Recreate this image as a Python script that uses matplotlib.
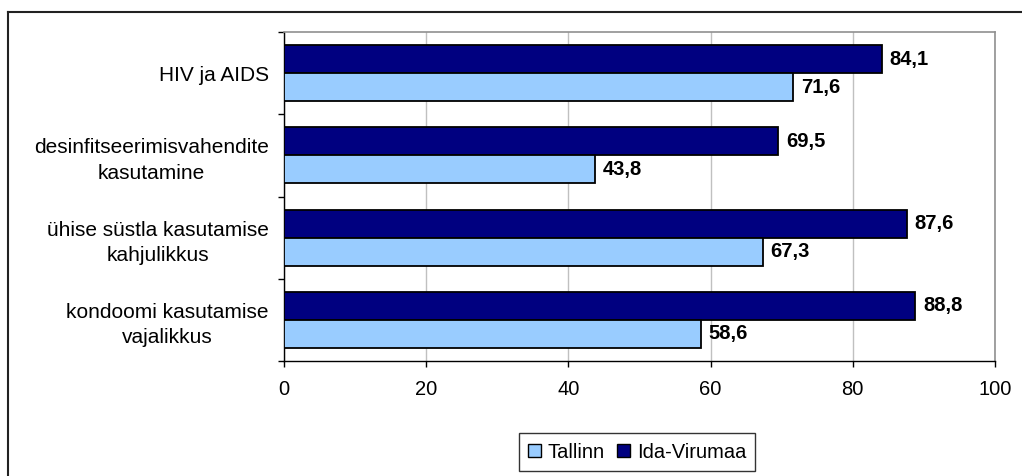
import matplotlib
matplotlib.use("Agg")
import matplotlib.pyplot as plt
from matplotlib.lines import Line2D
from matplotlib.patches import Patch
import numpy as np

categories = ["HIV ja AIDS",
              "desinfitseerimisvahendite\nkasutamine",
              "ühise süstla kasutamise\nkahjulikkus",
              "kondoomi kasutamise\nvajalikkus"]
tallinn = [71.6, 43.8, 67.3, 58.6]
ida_virumaa = [84.1, 69.5, 87.6, 88.8]
series_names = ["Tallinn", "Ida-Virumaa"]
xticks = [0, 20, 40, 60, 80, 100]

plt.rcParams['font.family'] = ['Liberation Sans', 'DejaVu Sans']
FS = 14.5
W, H = 1022, 476
fig = plt.figure(figsize=(W/100, H/100), dpi=100)
ax = fig.add_axes([284/W, 1-361/H, 711/W, 329/H])

n = len(categories)
centers = np.arange(n) + 0.5
bh = 0.34
dark = '#000080'
light = '#99CCFF'
ax.barh(centers - bh/2, ida_virumaa, height=bh, color=dark, edgecolor='black', linewidth=1.3, zorder=3)
ax.barh(centers + bh/2, tallinn, height=bh, color=light, edgecolor='black', linewidth=1.3, zorder=3)

for c, v in zip(centers, ida_virumaa):
    ax.text(v + 1.1, c - bh/2, f"{v:.1f}".replace('.', ','), va='center', ha='left',
            fontsize=FS, fontweight='bold')
for c, v in zip(centers, tallinn):
    ax.text(v + 1.1, c + bh/2, f"{v:.1f}".replace('.', ','), va='center', ha='left',
            fontsize=FS, fontweight='bold')

ax.set_xlim(0, 100)
ax.set_ylim(n, 0)
ax.set_xticks(xticks)
ax.set_xticklabels([str(t) for t in xticks], fontsize=FS)
ax.set_yticks(np.arange(n + 1))
ax.set_yticklabels([])
ax.set_yticks(centers, minor=True)
ax.set_yticklabels(categories, minor=True, fontsize=15, ha='right', multialignment='center',
                   linespacing=1.43)
ax.tick_params(axis='y', which='minor', length=0, pad=11)
ax.tick_params(axis='y', which='major', length=4.5, width=1, direction='out')
ax.tick_params(axis='x', length=4.5, width=1, direction='out', pad=9)

ax.grid(axis='x', color='#C0C0C0', linewidth=1, zorder=0)
ax.set_axisbelow(True)
for s in ['top', 'right']:
    ax.spines[s].set_color('#909090')
    ax.spines[s].set_linewidth(1.2)
for s in ['left', 'bottom']:
    ax.spines[s].set_color('black')
    ax.spines[s].set_linewidth(1)

# outer chart border (top and left visible)
fig.add_artist(Line2D([8/W, 1.0], [1-12/H, 1-12/H], color='#222222', linewidth=1.5,
                      transform=fig.transFigure))
fig.add_artist(Line2D([8/W, 8/W], [0.0, 1-12/H], color='#222222', linewidth=1.5,
                      transform=fig.transFigure))

handles = [Patch(facecolor=light, edgecolor='black', linewidth=1),
           Patch(facecolor=dark, edgecolor='black', linewidth=1)]
leg = fig.legend(handles, series_names, loc='center', bbox_to_anchor=(637/W, 1-452/H),
                 ncol=2, fontsize=FS, frameon=True, fancybox=False, shadow=False,
                 handlelength=0.65, handleheight=0.65, handletextpad=0.35, columnspacing=0.6,
                 borderpad=0.45, borderaxespad=0)
leg.get_frame().set_edgecolor('black')
leg.get_frame().set_linewidth(1)

fig.savefig("out.png", dpi=100)
